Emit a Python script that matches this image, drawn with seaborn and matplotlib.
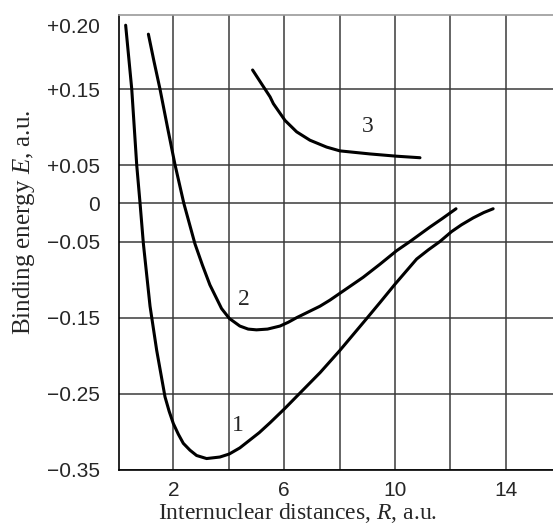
import numpy as np
import pandas as pd
import matplotlib
matplotlib.use("Agg")
import matplotlib.pyplot as plt
import seaborn as sns

# curve 1
r1 = [0.28, 0.50, 0.68, 0.80, 0.92, 1.16, 1.40, 1.70, 1.85, 2.00, 2.18, 2.36, 2.60, 2.84, 3.20,
      3.68, 4.02, 4.40, 4.75, 5.10, 5.49, 6.03, 6.57, 7.30, 8.01, 8.98, 9.46, 10.0, 10.78, 11.20,
      11.62, 12.04, 12.40, 12.82, 13.20, 13.54]
e1 = [0.200, 0.150, 0.050, 0.0, -0.053, -0.135, -0.193, -0.254, -0.273, -0.289, -0.303, -0.315,
      -0.324, -0.331, -0.335, -0.333, -0.329, -0.321, -0.311, -0.301, -0.288, -0.269, -0.249, -0.222,
      -0.193, -0.151, -0.130, -0.106, -0.073, -0.061, -0.050, -0.037, -0.028, -0.019, -0.012, -0.007]
# curve 2
r2 = [1.10, 1.30, 1.52, 1.80, 2.06, 2.38, 2.78, 3.05, 3.32, 3.74, 4.02, 4.40, 4.70, 5.00, 5.40,
      5.85, 6.15, 6.45, 7.29, 7.65, 8.01, 8.85, 9.45, 10.06, 10.54, 11.26, 11.70, 12.20]
e2 = [0.193, 0.172, 0.150, 0.098, 0.051, 0.0, -0.053, -0.081, -0.107, -0.138, -0.151, -0.161,
      -0.165, -0.166, -0.165, -0.161, -0.156, -0.150, -0.135, -0.127, -0.118, -0.097, -0.080,
      -0.062, -0.050, -0.031, -0.020, -0.007]
# curve 3
r3 = [4.86, 5.25, 5.49, 5.61, 6.03, 6.45, 6.93, 7.53, 8.01, 9.09, 10.06, 10.90]
e3 = [0.165, 0.152, 0.140, 0.131, 0.109, 0.094, 0.083, 0.074, 0.069, 0.065, 0.062, 0.060]

curve_labels = ["1", "2", "3"]
label_pos = [(4.34, -0.292), (4.56, -0.126), (9.03, 0.101)]

y_ticks = [-0.35, -0.25, -0.15, -0.05, 0.0, 0.05, 0.15, 0.20]
y_tick_labels = ["\u22120.35", "\u22120.25", "\u22120.15", "\u22120.05", "0", "+0.05", "+0.15", "+0.20"]
x_ticks = [2, 4, 6, 8, 10, 12, 14]
x_tick_labels = ["2", "", "6", "", "10", "", "14"]

sns.set_style("white")
plt.rcParams["font.family"] = ["Liberation Sans", "DejaVu Sans"]
plt.rcParams["mathtext.fontset"] = "custom"
plt.rcParams["mathtext.it"] = "Liberation Serif:italic"
plt.rcParams["mathtext.rm"] = "Liberation Serif"

# the upper part of the original axis (above +0.15) is drawn stretched
STRETCH = 1.68


def fwd(y):
    y = np.asarray(y, dtype=float)
    return np.where(y > 0.15, 0.15 + (y - 0.15) * STRETCH, y)


def inv(t):
    t = np.asarray(t, dtype=float)
    return np.where(t > 0.15, 0.15 + (t - 0.15) / STRETCH, t)


fig = plt.figure(figsize=(5.53, 5.24), dpi=100)
ax = fig.add_axes([0.2157, 0.1031, 0.7843, 0.8683])
ax.set_yscale("function", functions=(fwd, inv))

for r, e in [(r1, e1), (r2, e2), (r3, e3)]:
    df = pd.DataFrame({"R": r, "E": e})
    sns.lineplot(data=df, x="R", y="E", ax=ax, color="black", linewidth=2.2,
                 estimator=None, sort=False, solid_joinstyle="round", solid_capstyle="round")

for lab, (x, y) in zip(curve_labels, label_pos):
    ax.text(x, y, lab, fontsize=17, family="Liberation Serif", ha="center", va="center")

ax.set_xlim(0.05, 15.7)
ax.set_ylim(-0.35, 0.208)

ax.set_xticks(x_ticks)
ax.set_xticklabels(x_tick_labels, fontsize=15)
ax.set_yticks(y_ticks)
ax.set_yticklabels(y_tick_labels, fontsize=15)
ax.yaxis.set_minor_locator(matplotlib.ticker.NullLocator())
ax.tick_params(axis="x", direction="out", length=3, width=1, pad=5, color="#222222")
ax.tick_params(axis="y", direction="out", length=2, width=1, pad=12, color="#222222")

ax.grid(True, color="#3a3a3a", linewidth=1.1)
ax.set_axisbelow(True)
# no grid line / tick mark at the +0.20 label in the original
top_tick = ax.yaxis.get_major_ticks()[-1]
top_tick.gridline.set_visible(False)
top_tick.tick1line.set_visible(False)

for side in ["left", "bottom"]:
    ax.spines[side].set_color("black")
    ax.spines[side].set_linewidth(1.2)
ax.spines["top"].set_color("#999999")
ax.spines["top"].set_linewidth(1.2)
ax.spines["right"].set_visible(False)

ax.set_xlabel(r"Internuclear distances, $R$, a.u.", fontsize=17, family="Liberation Serif")
ax.set_ylabel(r"Binding energy $E$, a.u.", fontsize=18, family="Liberation Serif")
ax.xaxis.set_label_coords(0.411, -0.068)
ax.yaxis.set_label_coords(-0.19, 0.545)

fig.savefig("out.png", dpi=100)
